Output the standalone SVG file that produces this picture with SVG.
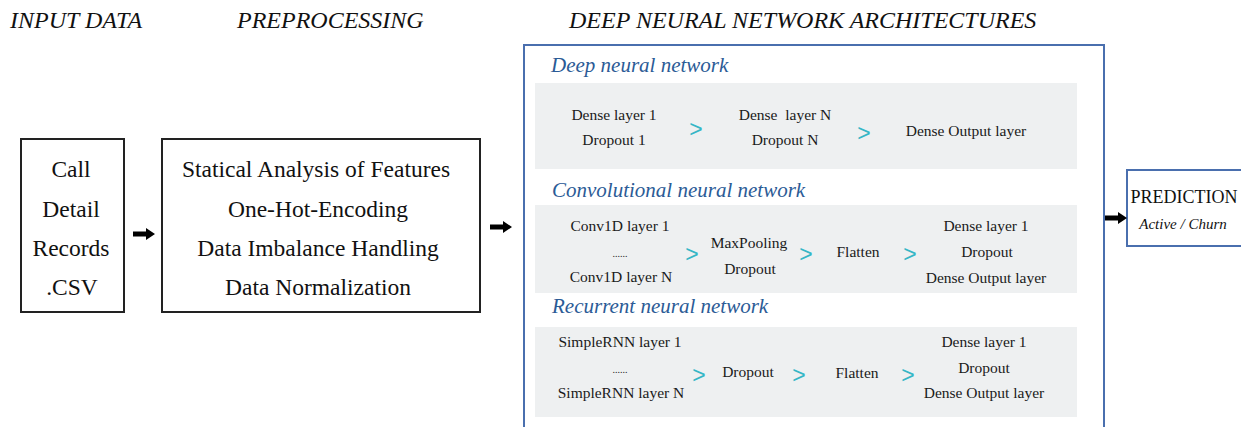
<svg xmlns="http://www.w3.org/2000/svg" width="1241" height="427" viewBox="0 0 1241 427" font-family="Liberation Serif">
<style>
text{font-family:'Liberation Serif',serif}
.hdr{font-style:italic;font-size:24px;fill:#111}
.big{font-size:23.5px;fill:#111;text-anchor:middle}
.ttl{font-style:italic;font-size:21px;fill:#2b5b96}
.t{font-size:15.5px;fill:#1a1a1a;text-anchor:middle}
.dots{font-size:10px;fill:#1a1a1a;text-anchor:middle}
.gt{font-family:'Liberation Sans',sans-serif;font-size:23px;fill:#35b6c6;text-anchor:middle}
.box{fill:#fff;stroke:#222;stroke-width:2}
.bbox{fill:#fff;stroke:#4a6fae;stroke-width:2}
.panel{fill:#eef0f1}
.arr{fill:#000}
.pr{font-size:18px;fill:#111;text-anchor:middle}
.pri{font-style:italic;font-size:15px;fill:#111;text-anchor:middle}
</style>
<rect width="1241" height="427" fill="#fff"/>
<text class="hdr" x="10" y="28">INPUT DATA</text>
<text class="hdr" x="237" y="28">PREPROCESSING</text>
<text class="hdr" x="569" y="28">DEEP NEURAL NETWORK ARCHITECTURES</text>

<g id="input">
<rect class="box" x="21" y="139" width="103" height="173"/>
<text class="big" x="71" y="177">Call</text>
<text class="big" x="71" y="217">Detail</text>
<text class="big" x="71" y="256">Records</text>
<text class="big" x="72" y="295">.CSV</text>
</g>

<g id="preprocessing">
<rect class="box" x="162" y="139" width="318" height="173"/>
<text class="big" x="316" y="177">Statical Analysis of Features</text>
<text class="big" x="318" y="217">One-Hot-Encoding</text>
<text class="big" x="318" y="256">Data Imbalance Handling</text>
<text class="big" x="318" y="295">Data Normalization</text>
</g>

<g id="architectures">
<rect class="bbox" x="524" y="45" width="580" height="400"/>
<g id="dnn">
<text class="ttl" x="551" y="72">Deep neural network</text>
<rect class="panel" x="535" y="83" width="542" height="86"/>
<text class="t" x="614" y="120">Dense layer 1</text>
<text class="t" x="614" y="145">Dropout 1</text>
<text class="gt" x="696" y="137">&gt;</text>
<text class="t" x="785" y="120" xml:space="preserve">Dense  layer N</text>
<text class="t" x="785" y="145">Dropout N</text>
<text class="gt" x="864" y="141">&gt;</text>
<text class="t" x="966" y="136">Dense Output layer</text>
</g>
<g id="cnn">
<text class="ttl" x="552" y="197">Convolutional neural network</text>
<rect class="panel" x="535" y="205" width="542" height="88"/>
<text class="t" x="620" y="231">Conv1D layer 1</text>
<text class="dots" x="620" y="257">......</text>
<text class="t" x="621" y="282">Conv1D layer N</text>
<text class="gt" x="692" y="262">&gt;</text>
<text class="t" x="749" y="248">MaxPooling</text>
<text class="t" x="750" y="274">Dropout</text>
<text class="gt" x="806" y="262">&gt;</text>
<text class="t" x="858" y="257">Flatten</text>
<text class="gt" x="910" y="262">&gt;</text>
<text class="t" x="986" y="231">Dense layer 1</text>
<text class="t" x="987" y="257">Dropout</text>
<text class="t" x="986" y="283">Dense Output layer</text>
</g>
<g id="rnn">
<text class="ttl" x="552" y="313">Recurrent neural network</text>
<rect class="panel" x="535" y="327" width="542" height="90"/>
<text class="t" x="620" y="347">SimpleRNN layer 1</text>
<text class="dots" x="620" y="373">......</text>
<text class="t" x="621" y="398">SimpleRNN layer N</text>
<text class="gt" x="699" y="383">&gt;</text>
<text class="t" x="748" y="377">Dropout</text>
<text class="gt" x="799" y="383">&gt;</text>
<text class="t" x="857" y="378">Flatten</text>
<text class="gt" x="908" y="383">&gt;</text>
<text class="t" x="984" y="347">Dense layer 1</text>
<text class="t" x="984" y="373">Dropout</text>
<text class="t" x="984" y="398">Dense Output layer</text>
</g>
</g>

<g id="prediction">
<rect class="bbox" x="1127" y="170" width="120" height="76"/>
<text class="pr" x="1184" y="203">PREDICTION</text>
<text class="pri" x="1183" y="229">Active / Churn</text>
</g>

<g id="connectors">
<path class="arr" d="M133,231.5 H146 V228 L155,234 L146,240 V236.5 H133 Z"/>
<path class="arr" d="M490,224.5 H503 V221 L512,227 L503,233 V229.5 H490 Z"/>
<path class="arr" d="M1105,215.5 H1118 V212 L1127,218 L1118,224 V220.5 H1105 Z"/>
</g>
</svg>
